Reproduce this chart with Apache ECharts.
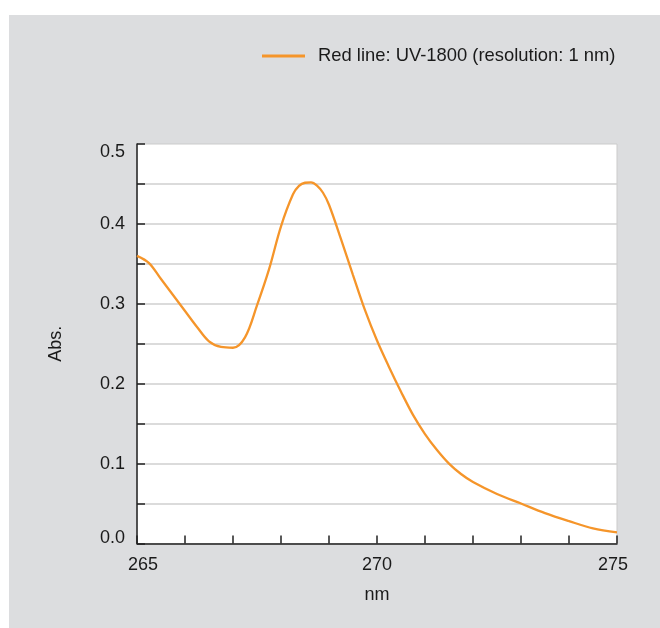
<!DOCTYPE html>
<html>
<head>
<meta charset="utf-8">
<script src="https://cdn.jsdelivr.net/npm/echarts@6/dist/echarts.min.js"></script>
<style>
html,body{margin:0;padding:0;background:#ffffff;}
#chart{width:660px;height:628px;}
</style>
</head>
<body>
<div id="chart"></div>
<script>
const wavelengths = [265.0,265.25,265.5,265.75,266.0,266.25,266.5,266.75,267.0,267.25,267.5,267.75,268.0,268.25,268.375,268.5,268.625,268.75,268.875,269.0,269.25,269.5,269.75,270.0,270.25,270.5,270.75,271.0,271.25,271.5,271.75,272.0,272.5,273.0,273.5,274.0,274.5,275.0];
const absorbance  = [0.360,0.351,0.331,0.311,0.291,0.271,0.253,0.246,0.245,0.258,0.298,0.343,0.397,0.437,0.4475,0.4515,0.452,0.448,0.439,0.424,0.381,0.336,0.292,0.254,0.221,0.190,0.161,0.137,0.117,0.100,0.087,0.077,0.062,0.050,0.038,0.028,0.019,0.014];
const seriesName = 'Red line: UV-1800 (resolution: 1 nm)';
const xLabelTicks = [265, 270, 275];
const yLabelTicks = [0.0, 0.1, 0.2, 0.3, 0.4, 0.5];

const chart = echarts.init(document.getElementById('chart'), null, {renderer: 'canvas'});
const font = 'Liberation Sans, Arial, Helvetica, sans-serif';
const near = (v, arr) => arr.some(t => Math.abs(t - v) < 1e-6);
const txt = {fontFamily: font, fontSize: 18, color: '#1a1a1a'};
const legendIcon = 'path://M0,5.5 L43,5.5 L43,8.5 L0,8.5 Z';

chart.setOption({
  animation: false,
  backgroundColor: '#ffffff',
  graphic: [{
    type: 'rect', z: -10, silent: true,
    shape: {x: 9, y: 15, width: 651, height: 613},
    style: {fill: '#dcdddf'}
  }],
  legend: {
    left: 257, top: 42,
    itemWidth: 43, itemHeight: 14, itemGap: 10,
    textStyle: {fontFamily: font, fontSize: 18.4, color: '#1a1a1a', padding: [0, 0, 0, 8]},
    data: [{name: seriesName, icon: legendIcon}]
  },
  grid: {
    left: 137, top: 144, right: 43, bottom: 84.5,
    show: true, backgroundColor: '#ffffff', borderColor: '#cbcbcb', borderWidth: 1
  },
  xAxis: {
    type: 'value', min: 265, max: 275, interval: 1,
    name: 'nm', nameLocation: 'middle', nameGap: 43,
    nameTextStyle: txt,
    axisLine: {show: true, lineStyle: {color: '#222', width: 1.5}},
    axisTick: {show: true, inside: true, length: 8, lineStyle: {color: '#222', width: 1.5}},
    axisLabel: Object.assign({
      margin: 13,
      formatter: v => {
        if (!near(v, xLabelTicks)) return '';
        const s = String(Math.round(v));
        if (Math.abs(v - xLabelTicks[0]) < 1e-6) return '{lo|' + s + '}';
        if (Math.abs(v - xLabelTicks[xLabelTicks.length - 1]) < 1e-6) return '{hi|' + s + '}';
        return s;
      },
      rich: {
        lo: Object.assign({padding: [0, 0, 0, 12]}, txt),
        hi: Object.assign({padding: [0, 8, 0, 0]}, txt)
      }
    }, txt),
    splitLine: {show: false}
  },
  yAxis: {
    type: 'value', min: 0, max: 0.5, interval: 0.05,
    name: 'Abs.', nameLocation: 'middle', nameGap: 72, nameRotate: 90,
    nameTextStyle: txt,
    axisLine: {show: true, lineStyle: {color: '#222', width: 1.5}},
    axisTick: {show: true, inside: true, length: 8, lineStyle: {color: '#222', width: 1.5}},
    axisLabel: Object.assign({
      margin: 12,
      formatter: v => {
        if (!near(v, yLabelTicks)) return '';
        const s = v.toFixed(1);
        if (Math.abs(v - yLabelTicks[0]) < 1e-6) return '{lo|' + s + '}';
        if (Math.abs(v - yLabelTicks[yLabelTicks.length - 1]) < 1e-6) return '{hi|' + s + '}';
        return s;
      },
      rich: {
        lo: Object.assign({padding: [0, 0, 10, 0]}, txt),
        hi: Object.assign({padding: [17, 0, 0, 0]}, txt)
      }
    }, txt),
    splitLine: {show: true, showMaxLine: false, lineStyle: {color: '#cfcfcf', width: 1.5}}
  },
  series: [{
    name: seriesName,
    type: 'line',
    data: wavelengths.map((w, i) => [w, absorbance[i]]),
    showSymbol: false,
    smooth: 0.35,
    lineStyle: {color: '#f5952a', width: 2.3},
    itemStyle: {color: '#f5952a'}
  }]
});
</script>
</body>
</html>
